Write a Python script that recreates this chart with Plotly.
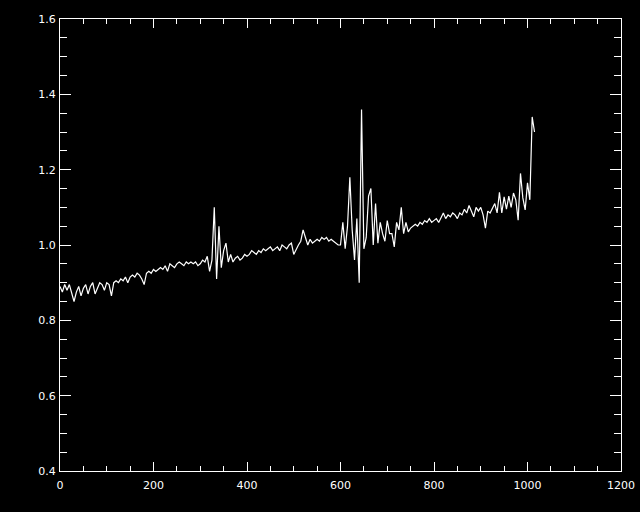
import numpy as np
import plotly.graph_objects as go

# sample positions (x) every 5 units
x_vals = list(range(0, 1020, 5))

y_000 = [0.89, 0.875, 0.895, 0.88, 0.895, 0.87, 0.85, 0.875, 0.89, 0.865,
         0.885, 0.895, 0.87, 0.89, 0.90, 0.87, 0.885, 0.90, 0.895, 0.88]
y_100 = [0.90, 0.895, 0.865, 0.90, 0.905, 0.90, 0.91, 0.905, 0.915, 0.90,
         0.915, 0.92, 0.915, 0.925, 0.92, 0.91, 0.895, 0.925, 0.93, 0.925]
y_200 = [0.935, 0.93, 0.935, 0.94, 0.935, 0.945, 0.93, 0.95, 0.945, 0.94,
         0.95, 0.955, 0.95, 0.945, 0.955, 0.95, 0.955, 0.95, 0.955, 0.945]
y_300 = [0.95, 0.96, 0.955, 0.97, 0.93, 0.96, 1.10, 0.91, 1.05, 0.94,
         0.985, 1.005, 0.955, 0.975, 0.955, 0.965, 0.97, 0.96, 0.965, 0.975]
y_400 = [0.97, 0.975, 0.985, 0.98, 0.975, 0.985, 0.98, 0.99, 0.985, 0.99,
         0.995, 0.985, 0.99, 0.995, 0.985, 1.0, 0.995, 0.99, 1.0, 1.005]
y_500 = [0.975, 0.99, 1.0, 1.01, 1.04, 1.02, 1.0, 1.015, 1.005, 1.01,
         1.015, 1.01, 1.02, 1.015, 1.02, 1.01, 1.015, 1.01, 1.005, 1.0]
y_600 = [1.0, 1.06, 0.99, 1.05, 1.18, 1.04, 0.96, 1.07, 0.90, 1.36,
         0.99, 1.02, 1.13, 1.15, 1.00, 1.11, 1.005, 1.06, 1.03, 1.01]
y_700 = [1.065, 1.03, 1.03, 0.995, 1.06, 1.04, 1.10, 1.03, 1.06, 1.035,
         1.045, 1.05, 1.055, 1.05, 1.06, 1.055, 1.065, 1.06, 1.07, 1.06]
y_800 = [1.065, 1.07, 1.06, 1.075, 1.085, 1.07, 1.08, 1.075, 1.085, 1.08,
         1.07, 1.085, 1.08, 1.095, 1.085, 1.105, 1.09, 1.075, 1.10, 1.09]
y_900 = [1.10, 1.08, 1.045, 1.09, 1.085, 1.10, 1.11, 1.085, 1.14, 1.085,
         1.128, 1.095, 1.13, 1.10, 1.138, 1.12, 1.066, 1.19, 1.125, 1.093]
y_1000 = [1.165, 1.12, 1.34, 1.30]

y_vals = y_000 + y_100 + y_200 + y_300 + y_400 + y_500 + y_600 + y_700 + y_800 + y_900 + y_1000

x_ticks = [0, 200, 400, 600, 800, 1000, 1200]
y_ticks = [0.4, 0.6, 0.8, 1.0, 1.2, 1.4, 1.6]

fig = go.Figure()
fig.add_trace(go.Scatter(x=x_vals, y=y_vals, mode="lines",
                         line=dict(color="white", width=1.2), showlegend=False))

font = dict(family="DejaVu Sans, Liberation Sans, sans-serif", size=11, color="white")

fig.update_layout(
    width=640, height=512, autosize=False,
    paper_bgcolor="black", plot_bgcolor="black",
    margin=dict(l=60, r=19, t=19, b=41),
    font=font,
)
fig.update_xaxes(
    range=[0, 1200], tickvals=x_ticks, ticktext=[str(v) for v in x_ticks],
    showgrid=False, zeroline=False, showline=True, linecolor="white", linewidth=1,
    mirror="allticks", ticks="inside", ticklen=9, tickcolor="white", tickwidth=1,
    minor=dict(dtick=50, ticks="inside", ticklen=5, tickcolor="white", showgrid=False),
    tickfont=font, ticklabelstandoff=4, automargin=False,
)
fig.update_yaxes(
    range=[0.4, 1.6], tickvals=y_ticks, ticktext=["%.1f" % v for v in y_ticks],
    showgrid=False, zeroline=False, showline=True, linecolor="white", linewidth=1,
    mirror="allticks", ticks="inside", ticklen=11, tickcolor="white", tickwidth=1,
    minor=dict(dtick=0.05, ticks="inside", ticklen=7, tickcolor="white", showgrid=False),
    tickfont=font, ticklabelstandoff=1, automargin=False,
)

fig.write_html(
    "out.html",
    config={"displayModeBar": False, "responsive": False},
    default_width="640px", default_height="512px",
    post_script=("document.documentElement.style.overflow='hidden';"
                 "document.body.style.overflow='hidden';"
                 "document.body.style.margin='0';"
                 "document.body.style.background='black';"),
)
